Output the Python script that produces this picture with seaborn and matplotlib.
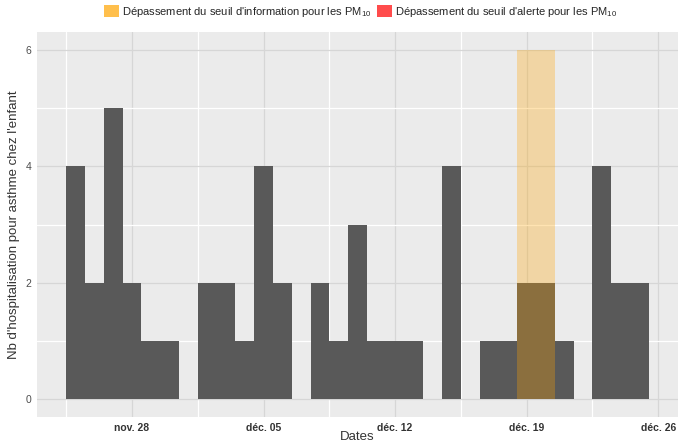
import matplotlib
matplotlib.use("Agg")
import matplotlib.pyplot as plt
import matplotlib.dates as mdates
from matplotlib.patches import Patch
from matplotlib.ticker import FixedLocator
import numpy as np
import pandas as pd
import seaborn as sns

# Daily paediatric asthma hospitalisations
dates = pd.date_range("2016-11-25", "2016-12-25", freq="D")
counts = [4, 2, 5, 2, 1, 1, 0, 2, 2, 1, 4, 2, 0, 2, 1, 3,
          1, 1, 1, 0, 4, 0, 1, 1, 2, 2, 1, 0, 4, 2, 2]

# Days with PM10 information-threshold exceedance
info_days = pd.to_datetime(["2016-12-19", "2016-12-20"])
band_top = 6

tick_dates = pd.to_datetime(["2016-11-28", "2016-12-05", "2016-12-12",
                             "2016-12-19", "2016-12-26"])
tick_labels = ["nov. 28", "déc. 05", "déc. 12", "déc. 19", "déc. 26"]
y_ticks = [0, 2, 4, 6]

legend_labels = [r"Dépassement du seuil d'information pour les PM$_{\mathregular{10}}$",
                 r"Dépassement du seuil d'alerte pour les PM$_{\mathregular{10}}$"]

sns.set_theme(style="white")
plt.rcParams["font.family"] = ["Liberation Sans", "DejaVu Sans"]
plt.rcParams["mathtext.fontset"] = "custom"
plt.rcParams["mathtext.rm"] = "Liberation Sans"

fig = plt.figure(figsize=(6.78, 4.45), dpi=100)
ax = fig.add_axes([0.0546, 0.063, 1 - 0.0546, 0.865])
ax.set_facecolor("#EBEBEB")
for s in ax.spines.values():
    s.set_visible(False)

df = pd.DataFrame({"date": dates, "n": counts})
sns.histplot(data=df, x="date", weights="n", discrete=True, color="#595959",
             alpha=1, linewidth=0, edgecolor="none", ax=ax, zorder=2)

band = pd.DataFrame({"date": info_days, "h": [band_top] * len(info_days)})
sns.histplot(data=band, x="date", weights="h", discrete=True, color="orange",
             alpha=0.3, linewidth=0, edgecolor="none", ax=ax, zorder=3)

# Limits with 5% padding around the data span
x0 = mdates.date2num(dates.min()) - 0.5
x1 = mdates.date2num(dates.max()) + 0.5
pad = 0.05 * (x1 - x0)
ax.set_xlim(x0 - pad, x1 + pad)
ax.set_ylim(-0.05 * band_top, band_top * 1.05)

tick_nums = mdates.date2num(tick_dates)
ax.xaxis.set_major_locator(FixedLocator(tick_nums))
ax.set_xticklabels(tick_labels, fontsize=7.5, fontweight="bold", color="#333333")
minor_x = np.concatenate([[tick_nums[0] - 3.5], tick_nums + 3.5])
ax.xaxis.set_minor_locator(FixedLocator(minor_x))
ax.set_yticks(y_ticks)
ax.set_yticklabels([str(v) for v in y_ticks], fontsize=7.5, color="#4D4D4D")
ax.yaxis.set_minor_locator(FixedLocator([1, 3, 5]))

ax.grid(which="major", color="#D6D6D6", linewidth=0.9, zorder=0)
ax.grid(which="minor", color="white", linewidth=0.9, zorder=0)
ax.set_axisbelow(True)
ax.tick_params(axis="both", which="major", length=2.5, width=0.6,
               color="#CCCCCC", pad=1.5)
ax.tick_params(axis="both", which="minor", length=0)

ax.set_xlabel("Dates", fontsize=9.5, color="#333333", labelpad=-1)
ax.set_ylabel("Nb d'hospitalisation pour asthme chez l'enfant", fontsize=9.5,
              color="#333333", labelpad=4)

handles = [Patch(facecolor="orange", alpha=0.7, edgecolor="none"),
           Patch(facecolor="red", alpha=0.7, edgecolor="none")]
fig.legend(handles, legend_labels, loc="upper center", bbox_to_anchor=(0.532, 1.012),
           ncol=2, frameon=False, fontsize=8, handlelength=1.3, handleheight=1.3,
           handletextpad=0.3, columnspacing=0.5)

fig.savefig("out.png", dpi=100)
